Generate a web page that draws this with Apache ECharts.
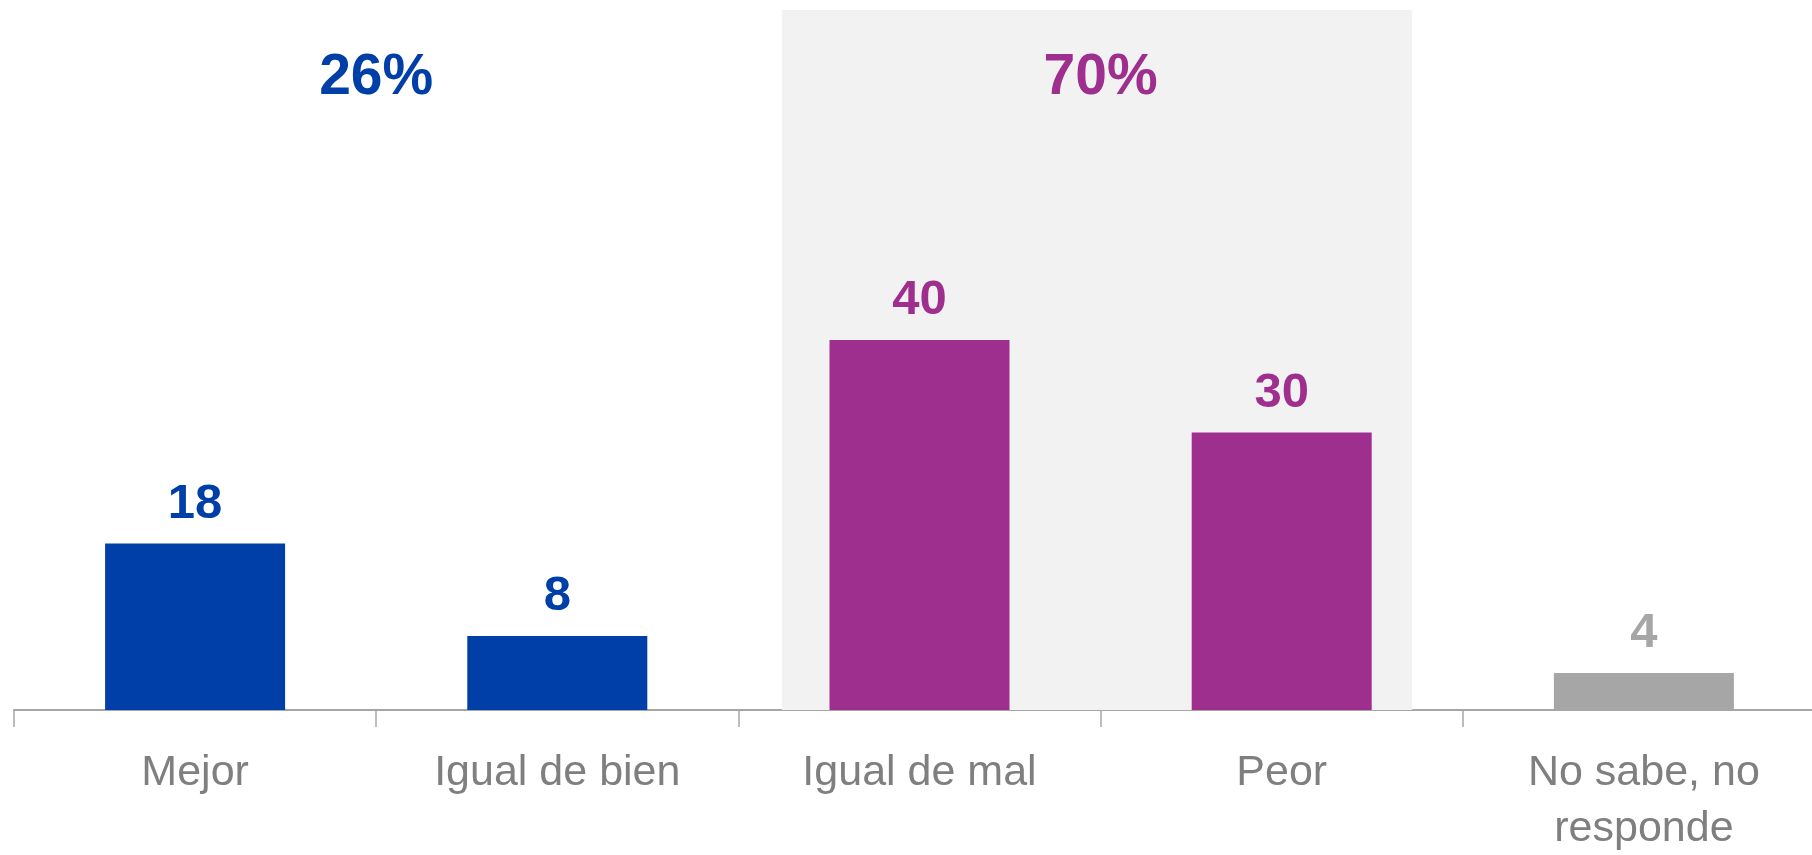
<!DOCTYPE html>
<html>
<head>
<meta charset="utf-8">
<script src="https://cdn.jsdelivr.net/npm/echarts@6/dist/echarts.min.js"></script>
<style>
  html, body { margin: 0; padding: 0; background: #fff; }
  #chart { width: 1812px; height: 855px; }
</style>
</head>
<body>
<div id="chart"></div>
<script>
// categories and values
const categories = ['Mejor', 'Igual de bien', 'Igual de mal', 'Peor', 'No sabe, no\nresponde']
const values = [18, 8, 40, 30, 4]
const groupOf = [0, 0, 1, 1, 2]
// group totals shown above: "26%" over the first pair, "70%" over the second
const groupTotals = ['26%', '70%']
const groupCentres = [1, 3]   // boundary between the two bars of each pair (value-axis units)
const shadedRange = [2.12, 3.86] // shaded band, in category units

const groupColors = ['#003fa7', '#9e2f8e', '#a6a6a6']
const font = 'Liberation Sans, Arial, sans-serif'

const chart = echarts.init(document.getElementById('chart'))

const option = {
  animation: false,
  grid: { left: 14, top: 10, width: 1811, bottom: 145, outerBoundsMode: 'none', containLabel: false },
  xAxis: [
    {
      type: 'category',
      data: categories,
      axisLine: { lineStyle: { color: '#a6a6a6', width: 2 } },
      axisTick: { show: true, length: 17, lineStyle: { color: '#a6a6a6', width: 1.5 } },
      axisLabel: {
        color: '#7f7f7f',
        fontFamily: font,
        fontSize: 43,
        margin: 35,
        lineHeight: 56,
        verticalAlign: 'top'
      }
    },
    {
      type: 'value',
      min: 0,
      max: 5,
      show: false
    }
  ],
  yAxis: {
    type: 'value',
    min: 0,
    max: 75.7,
    show: false,
    splitLine: { show: false }
  },
  series: [
    {
      // shaded background band and group totals
      type: 'scatter',
      xAxisIndex: 1,
      symbolSize: 0,
      silent: true,
      z: 1,
      itemStyle: { opacity: 1 },
      data: groupCentres.map((x, i) => ({
        value: [x, 68.3],
        label: {
          show: true,
          position: 'inside',
          formatter: groupTotals[i],
          color: groupColors[i],
          fontFamily: font,
          fontWeight: 'bold',
          fontSize: 57
        }
      })),
      markArea: {
        silent: true,
        itemStyle: { color: '#f2f2f2', opacity: 1 },
        data: [[{ xAxis: shadedRange[0] }, { xAxis: shadedRange[1] }]]
      }
    },
    {
      type: 'bar',
      barWidth: 180,
      z: 2,
      data: values.map((v, i) => ({
        value: v,
        itemStyle: { color: groupColors[groupOf[i]] },
        label: { color: groupColors[groupOf[i]] }
      })),
      label: {
        show: true,
        position: 'top',
        distance: 15,
        fontFamily: font,
        fontWeight: 'bold',
        fontSize: 49
      }
    }
  ]
}

chart.setOption(option)
</script>
</body>
</html>
